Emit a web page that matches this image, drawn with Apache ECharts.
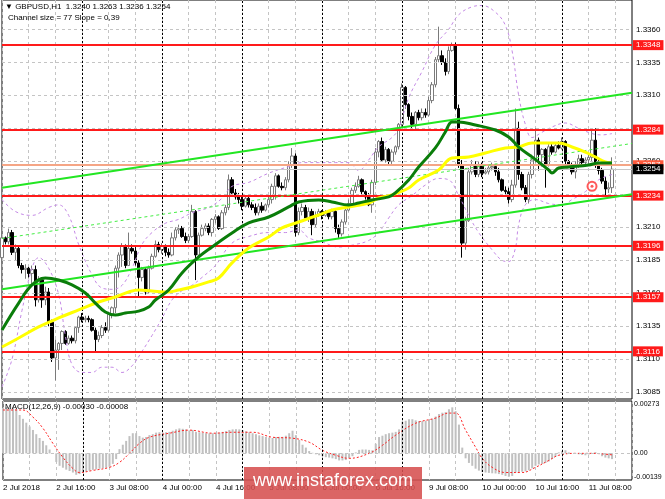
<!DOCTYPE html>
<html><head><meta charset="utf-8">
<script src="https://cdn.jsdelivr.net/npm/echarts@6/dist/echarts.min.js"></script>
<style>html,body{margin:0;padding:0;background:#fff}#c{width:665px;height:499px}</style>
</head><body><div id="c"></div><script>
const tickLabels = ['2 Jul 2018','2 Jul 16:00','3 Jul 08:00','4 Jul 00:00','4 Jul 16:00','5 Jul 08:00','6 Jul 00:00','6 Jul 16:00','9 Jul 08:00','10 Jul 00:00','10 Jul 16:00','11 Jul 08:00'];
const priceTicks = [1.3360,1.3335,1.3310,1.3285,1.3260,1.3235,1.3210,1.3185,1.3160,1.3135,1.3110,1.3085];
const levels = [1.3348,1.3284,1.3234,1.3196,1.3157,1.3116];
const refLine = 1.3257;
const bidLine = 1.3254;
const dayStarts = [24,48,72,96,120,144,168];
const macdTicks = [0.00273,0,-0.00139];
// [open, close, low, high]
const candles = [
[1.3187,1.3202,1.3183,1.3206],[1.3202,1.3199,1.3197,1.3203],[1.3199,1.3206,1.3197,1.3209],[1.3206,1.3191,1.3189,1.3208],
[1.3191,1.3194,1.3185,1.3197],[1.3194,1.3181,1.3179,1.3196],[1.3181,1.3178,1.3175,1.3183],[1.3178,1.3179,1.3171,1.3182],
[1.3179,1.3175,1.3172,1.3180],[1.3175,1.3178,1.3167,1.3181],[1.3178,1.3155,1.3150,1.3181],[1.3155,1.3170,1.3153,1.3173],
[1.3170,1.3155,1.3149,1.3172],[1.3155,1.3161,1.3151,1.3165],[1.3161,1.3138,1.3135,1.3164],[1.3138,1.3111,1.3108,1.3140],
[1.3111,1.3117,1.3094,1.3125],[1.3117,1.3122,1.3102,1.3123],[1.3122,1.3131,1.3117,1.3132],[1.3131,1.3122,1.3121,1.3132],
[1.3122,1.3126,1.3121,1.3128],[1.3126,1.3124,1.3122,1.3128],[1.3124,1.3134,1.3122,1.3135],[1.3134,1.3142,1.3130,1.3143],
[1.3142,1.3140,1.3138,1.3145],[1.3140,1.3141,1.3138,1.3143],[1.3141,1.3140,1.3138,1.3143],[1.3140,1.3132,1.3131,1.3141],
[1.3132,1.3125,1.3115,1.3134],[1.3125,1.3128,1.3123,1.3131],[1.3128,1.3134,1.3126,1.3136],[1.3134,1.3132,1.3130,1.3138],
[1.3132,1.3144,1.3131,1.3146],[1.3144,1.3149,1.3141,1.3150],[1.3149,1.3179,1.3145,1.3181],[1.3179,1.3189,1.3172,1.3191],
[1.3189,1.3196,1.3180,1.3198],[1.3196,1.3181,1.3179,1.3197],[1.3181,1.3194,1.3181,1.3206],[1.3194,1.3192,1.3190,1.3197],
[1.3192,1.3183,1.3181,1.3195],[1.3183,1.3172,1.3157,1.3185],[1.3172,1.3178,1.3169,1.3180],[1.3178,1.3161,1.3159,1.3179],
[1.3161,1.3179,1.3160,1.3181],[1.3179,1.3188,1.3178,1.3190],[1.3188,1.3197,1.3187,1.3200],[1.3197,1.3193,1.3191,1.3199],
[1.3193,1.3196,1.3190,1.3198],[1.3196,1.3191,1.3188,1.3197],[1.3191,1.3189,1.3187,1.3194],[1.3189,1.3202,1.3188,1.3206],
[1.3202,1.3208,1.3200,1.3210],[1.3208,1.3209,1.3205,1.3212],[1.3209,1.3203,1.3202,1.3211],[1.3203,1.3200,1.3198,1.3206],
[1.3200,1.3203,1.3198,1.3205],[1.3203,1.3222,1.3202,1.3227],[1.3222,1.3189,1.3170,1.3223],[1.3189,1.3204,1.3187,1.3206],
[1.3204,1.3209,1.3203,1.3212],[1.3209,1.3211,1.3207,1.3213],[1.3211,1.3206,1.3204,1.3213],[1.3206,1.3216,1.3203,1.3217],
[1.3216,1.3218,1.3213,1.3220],[1.3218,1.3209,1.3208,1.3219],[1.3209,1.3221,1.3208,1.3223],[1.3221,1.3225,1.3219,1.3227],
[1.3225,1.3246,1.3223,1.3250],[1.3246,1.3236,1.3234,1.3248],[1.3236,1.3233,1.3231,1.3239],[1.3233,1.3231,1.3228,1.3236],
[1.3231,1.3226,1.3223,1.3233],[1.3226,1.3232,1.3225,1.3234],[1.3232,1.3227,1.3225,1.3234],[1.3227,1.3225,1.3223,1.3229],
[1.3225,1.3221,1.3219,1.3228],[1.3221,1.3226,1.3219,1.3228],[1.3226,1.3223,1.3221,1.3229],[1.3223,1.3227,1.3222,1.3228],
[1.3227,1.3231,1.3225,1.3234],[1.3231,1.3241,1.3228,1.3243],[1.3241,1.3249,1.3231,1.3251],[1.3249,1.3241,1.3240,1.3250],
[1.3241,1.3240,1.3238,1.3244],[1.3240,1.3246,1.3238,1.3248],[1.3246,1.3257,1.3244,1.3260],[1.3257,1.3264,1.3255,1.3270],
[1.3264,1.3206,1.3203,1.3266],[1.3206,1.3222,1.3204,1.3225],[1.3222,1.3225,1.3219,1.3228],[1.3225,1.3217,1.3216,1.3227],
[1.3217,1.3222,1.3214,1.3225],[1.3222,1.3212,1.3204,1.3224],[1.3212,1.3219,1.3210,1.3222],[1.3219,1.3222,1.3218,1.3224],
[1.3222,1.3219,1.3216,1.3223],[1.3219,1.3221,1.3218,1.3223],[1.3221,1.3218,1.3216,1.3222],[1.3218,1.3222,1.3216,1.3224],
[1.3222,1.3209,1.3206,1.3223],[1.3209,1.3205,1.3202,1.3212],[1.3205,1.3214,1.3203,1.3216],[1.3214,1.3223,1.3212,1.3225],
[1.3223,1.3228,1.3222,1.3231],[1.3228,1.3238,1.3227,1.3240],[1.3238,1.3241,1.3236,1.3244],[1.3241,1.3246,1.3240,1.3249],
[1.3246,1.3237,1.3235,1.3247],[1.3237,1.3233,1.3231,1.3238],[1.3233,1.3227,1.3226,1.3236],[1.3227,1.3244,1.3221,1.3246],
[1.3244,1.3267,1.3242,1.3270],[1.3267,1.3275,1.3263,1.3276],[1.3275,1.3261,1.3260,1.3278],[1.3261,1.3269,1.3259,1.3271],
[1.3269,1.3260,1.3258,1.3270],[1.3260,1.3267,1.3258,1.3269],[1.3267,1.3271,1.3265,1.3272],[1.3271,1.3288,1.3269,1.3289],
[1.3288,1.3316,1.3286,1.3319],[1.3316,1.3303,1.3300,1.3317],[1.3303,1.3294,1.3291,1.3304],[1.3294,1.3288,1.3285,1.3297],
[1.3288,1.3297,1.3284,1.3298],[1.3297,1.3293,1.3291,1.3299],[1.3293,1.3297,1.3291,1.3300],[1.3297,1.3295,1.3293,1.3300],
[1.3295,1.3306,1.3294,1.3309],[1.3306,1.3318,1.3304,1.3320],[1.3318,1.3337,1.3316,1.3339],[1.3337,1.3340,1.3335,1.3362],
[1.3340,1.3335,1.3333,1.3344],[1.3335,1.3328,1.3325,1.3338],[1.3328,1.3344,1.3326,1.3347],[1.3344,1.3348,1.3343,1.3350],
[1.3348,1.3300,1.3299,1.3350],[1.3300,1.3257,1.3255,1.3303],[1.3257,1.3198,1.3187,1.3261],[1.3198,1.3215,1.3193,1.3218],
[1.3215,1.3252,1.3214,1.3255],[1.3252,1.3257,1.3250,1.3261],[1.3257,1.3250,1.3248,1.3260],[1.3250,1.3257,1.3248,1.3260],
[1.3257,1.3251,1.3248,1.3259],[1.3251,1.3252,1.3250,1.3255],[1.3252,1.3255,1.3250,1.3257],[1.3255,1.3256,1.3253,1.3259],
[1.3256,1.3252,1.3249,1.3258],[1.3252,1.3246,1.3244,1.3255],[1.3246,1.3238,1.3237,1.3247],[1.3238,1.3237,1.3235,1.3241],
[1.3237,1.3231,1.3228,1.3240],[1.3231,1.3242,1.3229,1.3246],[1.3242,1.3285,1.3240,1.3300],[1.3285,1.3250,1.3246,1.3290],
[1.3250,1.3240,1.3238,1.3252],[1.3240,1.3231,1.3229,1.3242],[1.3231,1.3250,1.3228,1.3252],[1.3250,1.3261,1.3247,1.3265],
[1.3261,1.3276,1.3259,1.3285],[1.3276,1.3265,1.3253,1.3278],[1.3265,1.3269,1.3256,1.3270],[1.3269,1.3257,1.3240,1.3270],
[1.3257,1.3271,1.3256,1.3273],[1.3271,1.3267,1.3265,1.3273],[1.3267,1.3272,1.3266,1.3274],[1.3272,1.3270,1.3269,1.3275],
[1.3270,1.3275,1.3269,1.3278],[1.3275,1.3260,1.3257,1.3276],[1.3260,1.3256,1.3255,1.3261],[1.3256,1.3252,1.3250,1.3259],
[1.3252,1.3257,1.3247,1.3260],[1.3257,1.3262,1.3255,1.3265],[1.3262,1.3259,1.3256,1.3265],[1.3259,1.3261,1.3256,1.3263],
[1.3261,1.3263,1.3258,1.3265],[1.3263,1.3276,1.3260,1.3285],[1.3276,1.3257,1.3255,1.3285],[1.3257,1.3253,1.3250,1.3262],
[1.3253,1.3245,1.3243,1.3255],[1.3245,1.3239,1.3234,1.3248],[1.3239,1.3240,1.3236,1.3244],[1.3240,1.3254,1.3236,1.3263]
];
const maFast = [[0,1.31322],[5,1.31526],[9,1.31663],[13,1.31716],[17,1.31701],[21,1.31663],[25,1.31602],[28,1.31526],[31,1.31458],[34,1.31435],[37,1.31450],[41,1.31465],[44,1.31496],[46,1.31549],[50,1.31625],[54,1.31754],[59,1.31875],[63,1.31951],[69,1.32057],[74,1.32133],[80,1.32178],[86,1.32254],[89,1.32292],[95,1.32307],[99,1.32292],[104,1.32269],[107,1.32284],[111,1.32307],[116,1.3233],[118,1.3236],[122,1.32458],[125,1.32557],[130,1.32701],[133,1.32822],[135,1.32898],[137,1.32898],[142,1.32875],[148,1.32837],[152,1.32784],[155,1.32708],[159,1.32633],[164,1.32534],[165,1.32511],[167,1.32549],[170,1.32557],[176,1.32572],[179,1.32587],[183,1.32587]];
const maSlow = [[0,1.31193],[5,1.31261],[11,1.31345],[17,1.31413],[23,1.31474],[29,1.31534],[34,1.31572],[38,1.31610],[41,1.31625],[45,1.31617],[50,1.31610],[53,1.31625],[57,1.31648],[62,1.31686],[65,1.31716],[69,1.3183],[74,1.31943],[80,1.32027],[84,1.32095],[89,1.3214],[95,1.32193],[99,1.32231],[104,1.32254],[110,1.32284],[113,1.32322],[117,1.32345],[122,1.32398],[125,1.32458],[131,1.32534],[135,1.32625],[140,1.32633],[145,1.32663],[151,1.32701],[155,1.32708],[159,1.32739],[163,1.32739],[167,1.32739],[171,1.32708],[175,1.3267],[178,1.32633],[181,1.32595],[183,1.32587]];
const bandUpper = [[0,1.3231],[4,1.3222],[9,1.3219],[14,1.3225],[17,1.3227],[20,1.3219],[23,1.3197],[27,1.3174],[30,1.3164],[33,1.3163],[36,1.3166],[39,1.3179],[42,1.3197],[45,1.3206],[49,1.3213],[53,1.3216],[57,1.3221],[62,1.3225],[66,1.3232],[69,1.3241],[74,1.3244],[80,1.3251],[86,1.3256],[90,1.3259],[95,1.3259],[100,1.3259],[104,1.3259],[107,1.3253],[110,1.3261],[113,1.3271],[117,1.3278],[119,1.3285],[122,1.3308],[126,1.3328],[130,1.3348],[134,1.3360],[137,1.3371],[141,1.3377],[144,1.3378],[148,1.3373],[151,1.3363],[153,1.3344],[155,1.3310],[157,1.3288],[159,1.3278],[162,1.3282],[165,1.3286],[169,1.3289],[173,1.3285],[177,1.3281],[180,1.3280],[183,1.3281]];
const bandLower = [[0,1.3089],[3,1.3110],[6,1.3147],[9,1.3179],[11,1.3187],[14,1.3179],[17,1.3159],[19,1.3128],[21,1.3106],[24,1.3100],[27,1.3100],[30,1.3104],[33,1.3104],[36,1.3100],[39,1.3105],[42,1.3116],[45,1.3128],[48,1.3141],[51,1.3155],[54,1.3162],[57,1.3166],[60,1.3172],[64,1.3181],[69,1.3198],[74,1.3203],[80,1.3206],[85,1.3206],[89,1.3208],[92,1.3202],[96,1.3199],[101,1.3195],[106,1.3197],[110,1.3200],[113,1.3206],[116,1.3217],[119,1.3227],[123,1.3234],[127,1.3242],[131,1.3247],[134,1.3246],[137,1.3234],[140,1.3219],[143,1.3206],[147,1.3193],[150,1.3185],[152,1.3184],[154,1.3194],[155,1.3212],[157,1.3227],[160,1.3231],[164,1.3228],[168,1.3227],[171,1.3231],[175,1.3237],[179,1.3246],[183,1.3250]];
const channelUpper = [[0,1.3240],[189,1.3312]];
const channelMiddle = [[0,1.32015],[189,1.32735]];
const channelLower = [[0,1.3163],[189,1.3235]];
const marker = [[177,1.3241]];
const macdHist = [0.00236,0.00240,0.00238,0.00236,0.00230,0.00200,0.00180,0.00160,0.00140,0.00122,0.00100,0.00080,0.00065,0.00042,0.00020,0.00002,
-0.00045,-0.00065,-0.00075,-0.00085,-0.00092,-0.00100,-0.00112,-0.00108,-0.00102,-0.00096,-0.00090,-0.00086,-0.00084,-0.00080,-0.00078,-0.00075,
-0.00070,-0.00055,-0.00030,0.00022,0.00045,0.00065,0.00090,0.00105,0.00105,0.00090,0.00082,0.00085,0.00095,0.00100,0.00108,0.00110,
0.00108,0.00110,0.00112,0.00118,0.00125,0.00130,0.00128,0.00125,0.00120,0.00122,0.00112,0.00110,0.00108,0.00105,0.00104,0.00105,
0.00104,0.00108,0.00112,0.00116,0.00122,0.00125,0.00126,0.00125,0.00122,0.00115,0.00110,0.00105,0.00100,0.00094,0.00090,0.00086,
0.00082,0.00080,0.00085,0.00086,0.00086,0.00092,0.00105,0.00118,0.00095,0.00070,0.00045,0.00030,0.00012,0.00003,-0.00005,-0.00010,
-0.00015,-0.00020,-0.00022,-0.00026,-0.00030,-0.00037,-0.00037,-0.00035,-0.00025,-0.00015,0.00005,0.00018,0.00020,0.00020,0.00018,0.00016,
0.00050,0.00085,0.00092,0.00100,0.00105,0.00108,0.00112,0.00125,0.00165,0.00170,0.00178,0.00178,0.00172,0.00168,0.00168,0.00170,
0.00175,0.00180,0.00192,0.00205,0.00212,0.00215,0.00230,0.00240,0.00220,0.00150,0.00030,-0.00026,-0.00050,-0.00065,-0.00080,-0.00090,
-0.00098,-0.00100,-0.00102,-0.00104,-0.00105,-0.00108,-0.00112,-0.00118,-0.00122,-0.00118,-0.00100,-0.00098,-0.00096,-0.00094,-0.00088,-0.00078,
-0.00065,-0.00058,-0.00055,-0.00050,-0.00042,-0.00030,-0.00018,0.00005,0.00012,0.00016,0.00005,0.00000,-0.00003,-0.00005,-0.00008,-0.00010,
-0.00006,0.00002,0.00006,-0.00002,-0.00015,-0.00022,-0.00026,-0.00030];
const macdSignal = [[0,0.00226],[6,0.00226],[9,0.00189],[12,0.00131],[15,0.00052],[18,-0.00021],[21,-0.00079],[23,-0.00100],[27,-0.00089],[32,-0.00073],[35,-0.00047],[38,0.0],[41,0.00052],[44,0.00084],[50,0.00105],[56,0.00121],[63,0.00105],[69,0.00110],[75,0.00110],[81,0.00084],[87,0.00079],[92,0.00058],[96,0.00016],[100,-0.0001],[104,-0.00026],[110,0.0],[114,0.00042],[118,0.00095],[124,0.00157],[130,0.00184],[134,0.0021],[136,0.0021],[139,0.00121],[142,0.00032],[144,-0.00026],[147,-0.00073],[151,-0.001],[156,-0.001],[160,-0.00073],[164,-0.00037],[167,-0.0001],[172,0.0],[177,0.0],[183,-0.00008]];

const NCAT = 190;
const categories = Array.from({length: NCAT}, (_, i) => 'b' + i);
const FONT = 'Liberation Sans';
const chart = echarts.init(document.getElementById('c'), null, {renderer: 'canvas'});
const vLines = dayStarts.map(i => ({xAxis: i}));
const noLab = {show: false};
function xAx(gi, showLabels) {
  return {
    type: 'category', gridIndex: gi, data: categories, boundaryGap: false,
    axisLine: {show: false}, axisTick: {show: false},
    axisLabel: showLabels ? {
      show: true, interval: 0, align: 'left', margin: 4, fontSize: 8, fontFamily: FONT, color: '#000',
      formatter: (v, idx) => (idx % 16 === 0 && tickLabels[idx / 16]) ? tickLabels[idx / 16] : ''
    } : {show: false},
    splitLine: {show: true, interval: 7, lineStyle: {color: '#c4c4c4', type: [3, 3], width: 1}}
  };
}
const P = 6;
const clearLine = {color: 'rgba(0,0,0,0)', width: 1, type: 'solid'};
const option = {
  animation: false,
  backgroundColor: '#fff',
  grid: [
    {left: 2, right: 33, top: 0, height: 399, show: true, borderColor: '#000', borderWidth: 1, backgroundColor: 'transparent'},
    {left: 2, right: 33, top: 401, height: 79, show: true, borderColor: '#000', borderWidth: 1, backgroundColor: 'transparent'}
  ],
  xAxis: [xAx(0, false), xAx(1, true)],
  yAxis: [
    {type: 'value', gridIndex: 0, position: 'right', min: 1.30799, max: 1.33822, axisLine: {show: false}, axisTick: {show: false}, axisLabel: {show: false}, splitLine: {show: false}},
    {type: 'value', gridIndex: 1, position: 'right', min: -0.00139, max: 0.00273, axisLine: {show: false}, axisTick: {show: false}, axisLabel: {show: false}, splitLine: {show: false}}
  ],
  graphic: [
    {type: 'text', left: 5, top: 3, style: {text: '\u25BC GBPUSD,H1  1.3240 1.3263 1.3236 1.3254', font: '8px "Liberation Sans"', fill: '#000'}, z: 100},
    {type: 'text', left: 8, top: 14, style: {text: 'Channel size = 77 Slope = 0,39', font: '8px "Liberation Sans"', fill: '#000'}, z: 100},
    {type: 'text', left: 5, top: 403, style: {text: 'MACD(12,26,9) -0.00030 -0.00008', font: '8px "Liberation Sans"', fill: '#000'}, z: 100},
    {type: 'rect', left: 244, top: 467, shape: {width: 178, height: 32}, style: {fill: 'rgba(214,80,80,0.88)'}, z: 100},
    {type: 'text', left: 253, top: 472, style: {text: 'www.instaforex.com', font: '18px "Liberation Sans"', fill: '#fff'}, z: 101}
  ],
  series: [
    {name: 'grid', type: 'line', xAxisIndex: 0, yAxisIndex: 0, data: [], clip: false, z: 1, silent: true,
      markLine: {silent: true, symbol: 'none', animation: false, precision: P,
        lineStyle: {color: '#c4c4c4', type: [3, 3], width: 1},
        label: {show: true, position: 'end', distance: 4, fontSize: 8, fontFamily: FONT, color: '#000', formatter: p => p.value.toFixed(4)},
        data: priceTicks.map(v => ({yAxis: v}))}},
    {name: 'price', type: 'candlestick', xAxisIndex: 0, yAxisIndex: 0, data: candles, barWidth: 3, z: 3,
      itemStyle: {color: '#ffffff', color0: '#000000', borderColor: '#7a7a7a', borderColor0: '#000000', borderWidth: 1},
      markLine: {silent: true, symbol: 'none', animation: false, label: noLab,
        lineStyle: {color: '#000', type: [2, 2], width: 1}, data: vLines}},
    {name: 'bbU', type: 'line', xAxisIndex: 0, yAxisIndex: 0, data: bandUpper, smooth: 0.4, showSymbol: false, z: 4,
      lineStyle: {color: '#c58ae6', type: [3, 3], width: 1}},
    {name: 'bbL', type: 'line', xAxisIndex: 0, yAxisIndex: 0, data: bandLower, smooth: 0.4, showSymbol: false, z: 4,
      lineStyle: {color: '#c58ae6', type: [3, 3], width: 1}},
    {name: 'chU', type: 'line', xAxisIndex: 0, yAxisIndex: 0, data: channelUpper, showSymbol: false, z: 5, lineStyle: {color: '#22e622', width: 2}},
    {name: 'chM', type: 'line', xAxisIndex: 0, yAxisIndex: 0, data: channelMiddle, showSymbol: false, z: 5, lineStyle: {color: '#44ee44', width: 1, type: [3, 3]}},
    {name: 'chL', type: 'line', xAxisIndex: 0, yAxisIndex: 0, data: channelLower, showSymbol: false, z: 5, lineStyle: {color: '#22e622', width: 2}},
    {name: 'maSlow', type: 'line', xAxisIndex: 0, yAxisIndex: 0, data: maSlow, smooth: 0.4, showSymbol: false, z: 6, lineStyle: {color: '#ffff00', width: 3}},
    {name: 'maFast', type: 'line', xAxisIndex: 0, yAxisIndex: 0, data: maFast, smooth: 0.4, showSymbol: false, z: 6, lineStyle: {color: '#0a7d0a', width: 3}},
    {name: 'bid', type: 'line', xAxisIndex: 0, yAxisIndex: 0, data: [], clip: false, z: 7,
      markLine: {silent: true, symbol: 'none', animation: false, precision: P,
        data: [
          {yAxis: refLine, lineStyle: {color: '#f5a585', width: 2, type: 'solid'},
            label: {show: true, position: 'end', distance: 1, fontSize: 8, fontFamily: FONT, color: '#fff', backgroundColor: '#ff5a3c', padding: [1, 3, 1, 3], formatter: p => p.value.toFixed(4)}},
          {yAxis: bidLine, lineStyle: {color: '#c8c8c8', width: 1, type: 'solid'},
            label: {show: true, position: 'end', distance: 1, fontSize: 8, fontFamily: FONT, color: '#fff', backgroundColor: '#000', padding: [1, 3, 1, 3], formatter: p => p.value.toFixed(4)}}
        ]}},
    {name: 'levels', type: 'line', xAxisIndex: 0, yAxisIndex: 0, data: [], clip: false, z: 8,
      markLine: {silent: true, symbol: 'none', animation: false, precision: P,
        lineStyle: {color: '#ff1a1a', width: 2, type: 'solid'},
        label: {show: true, position: 'end', distance: 1, fontSize: 8, fontFamily: FONT, color: '#fff', backgroundColor: '#ff1a1a', padding: [1, 3, 1, 3], formatter: p => p.value.toFixed(4)},
        data: levels.map(v => ({yAxis: v}))}},
    {name: 'mark', type: 'scatter', xAxisIndex: 0, yAxisIndex: 0, data: marker, symbol: 'emptyCircle', symbolSize: 9, z: 9,
      itemStyle: {color: '#ff3030', borderColor: '#ff3030', borderWidth: 1.5}},
    {name: 'mark2', type: 'scatter', xAxisIndex: 0, yAxisIndex: 0, data: marker, symbol: 'circle', symbolSize: 3, z: 9,
      itemStyle: {color: '#ff3030'}},
    {name: 'macdGrid', type: 'line', xAxisIndex: 1, yAxisIndex: 1, data: [], clip: false, z: 1,
      markLine: {silent: true, symbol: 'none', animation: false, precision: P,
        label: {show: true, position: 'end', distance: 2, fontSize: 7, fontFamily: FONT, color: '#000',
          formatter: p => p.value === 0 ? '0.00' : p.value.toFixed(5)},
        data: [
          {yAxis: macdTicks[0], lineStyle: clearLine, label: {show: true, offset: [0, 3], color: '#000'}},
          {yAxis: macdTicks[1], lineStyle: {color: '#c4c4c4', type: [3, 3], width: 1}},
          {yAxis: macdTicks[2], lineStyle: clearLine, label: {show: true, offset: [0, -3], color: '#000'}}
        ]}},
    {name: 'MACD', type: 'bar', xAxisIndex: 1, yAxisIndex: 1, data: macdHist, barWidth: 2, z: 3,
      itemStyle: {color: '#c0c0c0'},
      markLine: {silent: true, symbol: 'none', animation: false, label: noLab,
        lineStyle: {color: '#000', type: [2, 2], width: 1}, data: vLines}},
    {name: 'Signal', type: 'line', xAxisIndex: 1, yAxisIndex: 1, data: macdSignal, smooth: 0.4, showSymbol: false, z: 4,
      lineStyle: {color: '#ff2020', width: 1, type: [2, 2]}}
  ]
};
chart.setOption(option);
</script></body></html>
